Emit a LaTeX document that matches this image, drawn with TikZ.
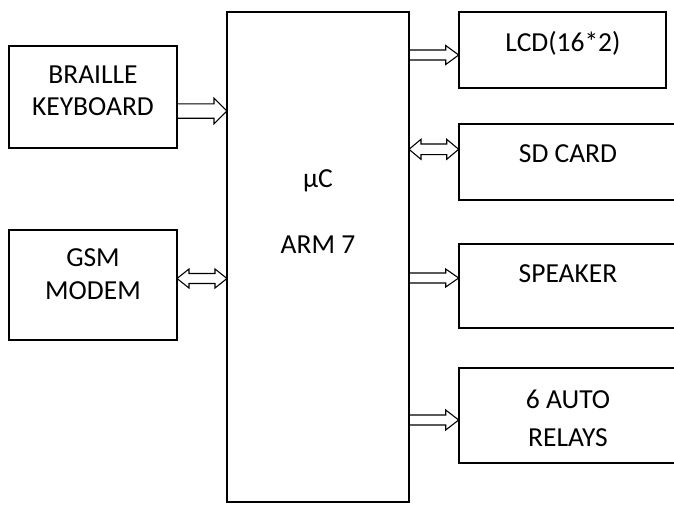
\documentclass[tikz,border=0pt]{standalone}
\usepackage{fontspec}
\setmainfont{Carlito}
\usetikzlibrary{calc}
\newcommand\myRarrow[4]{% start, end, shaft half-width, head half-width
  \draw[blk] ($(#1)+(0,-#3)$) -- ($(#2)+(-13,-#3)$) -- ($(#2)+(-13,-#4)$) -- (#2)
    -- ($(#2)+(-13,#4)$) -- ($(#2)+(-13,#3)$) -- ($(#1)+(0,#3)$);}
\newcommand\myDarrow[4]{%
  \draw[blk] (#1) -- ($(#1)+(12,-#4)$) -- ($(#1)+(12,-#3)$) -- ($(#2)+(-12,-#3)$) -- ($(#2)+(-12,-#4)$) -- (#2)
    -- ($(#2)+(-12,#4)$) -- ($(#2)+(-12,#3)$) -- ($(#1)+(12,#3)$) -- ($(#1)+(12,#4)$) -- cycle;}
\begin{document}
\begin{tikzpicture}[x=1pt,y=-1pt,
  box/.style={draw=black,line width=2pt,inner sep=0pt,outer sep=0pt},
  lbl/.style={font=\fontsize{27.5}{33}\selectfont,inner sep=0pt},
  blk/.style={draw=black,line width=1.1pt,line join=miter}]
\useasboundingbox (0,0) rectangle (674,504);
\begin{scope}
\clip (0,0) rectangle (674,504);
% boxes
\node[box,minimum width=168.4pt,minimum height=102.3pt] (brl) at (92.8,96.85) {};
\node[box,minimum width=168.4pt,minimum height=110.3pt] (gsm) at (92.8,284.85) {};
\node[box,minimum width=182pt,minimum height=490pt] (mc) at (318,257) {};
\node[box,minimum width=207.7pt,minimum height=76pt] (lcd) at (562.55,50) {};
\node[box,minimum width=231.3pt,minimum height=76pt] (sd) at (574.35,162) {};
\node[box,minimum width=231.3pt,minimum height=84.3pt] (spk) at (574.35,285.85) {};
\node[box,minimum width=231.3pt,minimum height=95.6pt] (rly) at (574.35,415.5) {};
% texts
\node[lbl] (t1) at (93,75) {BRAILLE};
\node[lbl] (t2) at (93,106.7) {KEYBOARD};
\node[lbl] (t3) at (93,258) {GSM};
\node[lbl] (t4) at (93,291) {MODEM};
\node[lbl] (t5) at (318,181) {µC};
\node[lbl] (t6) at (318,245) {ARM 7};
\node[lbl] (t7) at (563,43) {LCD(16*2)};
\node[lbl] (t8) at (568,154) {SD CARD};
\node[lbl] (t9) at (568,274) {SPEAKER};
\node[lbl] (t10) at (568,399) {6 AUTO};
\node[lbl] (t11) at (568,438) {RELAYS};
% connector end points
\coordinate (a1s) at (brl.east |- 0,111);  \coordinate (a1e) at (mc.west |- 0,111);
\coordinate (a2s) at (gsm.east |- 0,278.5); \coordinate (a2e) at (mc.west |- 0,278.5);
\coordinate (a3s) at (mc.east |- 0,55);    \coordinate (a3e) at (lcd.west |- 0,55);
\coordinate (a4s) at (mc.east |- 0,149.3); \coordinate (a4e) at (sd.west |- 0,149.3);
\coordinate (a5s) at (mc.east |- 0,278);   \coordinate (a5e) at (spk.west |- 0,278);
\coordinate (a6s) at (mc.east |- 0,420);   \coordinate (a6e) at (rly.west |- 0,420);
\myRarrow{a1s}{a1e}{7.2}{12.8}
\myDarrow{a2s}{a2e}{5}{9.5}
\myRarrow{a3s}{a3e}{5}{9.5}
\myDarrow{a4s}{a4e}{5.3}{10}
\myRarrow{a5s}{a5e}{5}{9}
\myRarrow{a6s}{a6e}{5}{10}
\end{scope}
\end{tikzpicture}
\end{document}
